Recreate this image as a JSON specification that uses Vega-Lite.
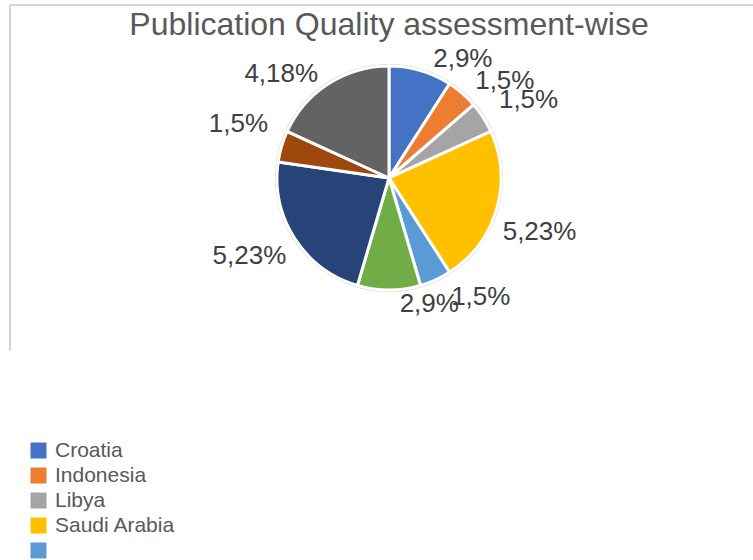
{
  "$schema": "https://vega.github.io/schema/vega-lite/v6.json",
  "autosize": {"type": "none"},
  "width": 758,
  "height": 346,
  "padding": {"left": 10, "top": 5, "right": 0, "bottom": 209},
  "background": "white",
  "config": {
    "font": "Liberation Sans"
  },
  "view": {"stroke": "#c8c8c8", "strokeWidth": 1.5, "strokeDash": [1104, 758, 346]},
  "title": {
    "text": "Publication Quality assessment-wise",
    "orient": "top",
    "anchor": "middle",
    "frame": "group",
    "baseline": "alphabetic",
    "offset": -30,
    "dy": 32,
    "fontSize": 32,
    "fontWeight": "normal",
    "color": "#595959",
    "font": "Liberation Sans"
  },
  "data": {
    "values": [
      {"idx": 1, "country": "Croatia", "count": 2, "label": "2,9%"},
      {"idx": 2, "country": "Indonesia", "count": 1, "label": "1,5%"},
      {"idx": 3, "country": "Libya", "count": 1, "label": "1,5%"},
      {"idx": 4, "country": "Saudi Arabia", "count": 5, "label": "5,23%"},
      {"idx": 5, "country": "Oman", "count": 1, "label": "1,5%"},
      {"idx": 6, "country": "Nigeria", "count": 2, "label": "2,9%"},
      {"idx": 7, "country": "Malaysia", "count": 5, "label": "5,23%"},
      {"idx": 8, "country": "Egypt", "count": 1, "label": "1,5%"},
      {"idx": 9, "country": "Iraq", "count": 4, "label": "4,18%"}
    ]
  },
  "layer": [
    {
      "mark": {"type": "arc", "radius": 114, "fill": "#d4d4d4", "stroke": null},
      "encoding": {
        "theta": {"field": "count", "type": "quantitative", "stack": true},
        "order": {"field": "idx", "type": "quantitative"}
      }
    },
    {
      "mark": {"type": "arc", "radius": 112, "stroke": "white", "strokeWidth": 3},
      "encoding": {
        "theta": {"field": "count", "type": "quantitative", "stack": true},
        "order": {"field": "idx", "type": "quantitative"},
        "color": {
          "field": "country",
          "type": "nominal",
          "sort": ["Croatia", "Indonesia", "Libya", "Saudi Arabia", "Oman", "Nigeria", "Malaysia", "Egypt", "Iraq"],
          "scale": {
            "domain": ["Croatia", "Indonesia", "Libya", "Saudi Arabia", "Oman", "Nigeria", "Malaysia", "Egypt", "Iraq"],
            "range": ["#4472C4", "#ED7D31", "#A5A5A5", "#FFC000", "#5B9BD5", "#70AD47", "#264478", "#9E480E", "#636363"]
          },
          "legend": {
            "title": null,
            "orient": "none",
            "legendX": 18,
            "legendY": 435,
            "padding": 0,
            "symbolType": "square",
            "symbolSize": 256,
            "symbolStrokeWidth": 0,
            "labelFontSize": 21,
            "labelColor": "#595959",
            "labelFont": "Liberation Sans",
            "labelOffset": 6,
            "rowPadding": 3,
            "labelExpr": "datum.index < 4 ? datum.label : ''"
          }
        }
      }
    },
    {
      "transform": [
        {"stack": "count", "sort": [{"field": "idx"}], "groupby": [], "as": ["s0", "s1"]},
        {"calculate": "(datum.s0 + datum.s1) / 2", "as": "mid"},
        {"filter": "datum.idx == 1"}
      ],
      "mark": {"type": "text", "radius": 140, "thetaOffset": 0.27, "fontSize": 26, "font": "Liberation Sans"},
      "encoding": {
        "theta": {"field": "mid", "type": "quantitative"},
        "text": {"field": "label"},
        "color": {"value": "#404040"}
      }
    },
    {
      "transform": [
        {"stack": "count", "sort": [{"field": "idx"}], "groupby": [], "as": ["s0", "s1"]},
        {"calculate": "(datum.s0 + datum.s1) / 2", "as": "mid"},
        {"filter": "datum.idx == 2"}
      ],
      "mark": {"type": "text", "radius": 151, "thetaOffset": 0.16, "fontSize": 26, "font": "Liberation Sans"},
      "encoding": {
        "theta": {"field": "mid", "type": "quantitative"},
        "text": {"field": "label"},
        "color": {"value": "#404040"}
      }
    },
    {
      "transform": [
        {"stack": "count", "sort": [{"field": "idx"}], "groupby": [], "as": ["s0", "s1"]},
        {"calculate": "(datum.s0 + datum.s1) / 2", "as": "mid"},
        {"filter": "datum.idx == 3 || datum.idx == 4 || datum.idx == 7 || datum.idx == 8"}
      ],
      "mark": {"type": "text", "radius": 160, "thetaOffset": 0.06, "fontSize": 26, "font": "Liberation Sans"},
      "encoding": {
        "theta": {"field": "mid", "type": "quantitative"},
        "text": {"field": "label"},
        "color": {"value": "#404040"}
      }
    },
    {
      "transform": [
        {"stack": "count", "sort": [{"field": "idx"}], "groupby": [], "as": ["s0", "s1"]},
        {"calculate": "(datum.s0 + datum.s1) / 2", "as": "mid"},
        {"filter": "datum.idx == 5 || datum.idx == 9"}
      ],
      "mark": {"type": "text", "radius": 150, "thetaOffset": -0.23, "fontSize": 26, "font": "Liberation Sans"},
      "encoding": {
        "theta": {"field": "mid", "type": "quantitative"},
        "text": {"field": "label"},
        "color": {"value": "#404040"}
      }
    },
    {
      "transform": [
        {"stack": "count", "sort": [{"field": "idx"}], "groupby": [], "as": ["s0", "s1"]},
        {"calculate": "(datum.s0 + datum.s1) / 2", "as": "mid"},
        {"filter": "datum.idx == 6"}
      ],
      "mark": {"type": "text", "radius": 132, "thetaOffset": -0.31, "fontSize": 26, "font": "Liberation Sans"},
      "encoding": {
        "theta": {"field": "mid", "type": "quantitative"},
        "text": {"field": "label"},
        "color": {"value": "#404040"}
      }
    }
  ]
}
